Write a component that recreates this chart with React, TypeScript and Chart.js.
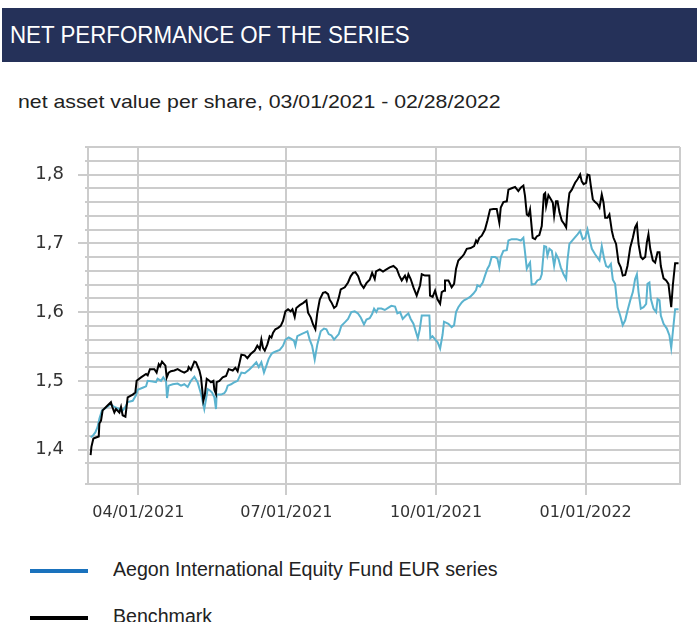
import React, { useEffect, useRef } from "react";
import { Chart, registerables } from "chart.js";

Chart.register(...registerables);

// x values: days since 03/01/2021
const fundDays = [1.6,2.9,4.5,5.9,7.0,8.6,11.1,14.1,16.2,19.3,21.3,23.0,24.4,27.5,29.5,30.5,33.6,35.7,36.7,39.8,41.8,42.8,44.9,46.3,48.0,48.6,49.6,52.1,55.1,57.2,59.2,61.3,63.3,65.4,67.4,69.5,71.5,72.6,73.6,75.0,76.3,77.7,78.7,79.1,81.8,83.8,84.9,85.9,88.0,90.0,92.0,94.3,96.4,99.4,101.5,103.5,105.0,106.6,108.2,109.7,111.1,112.8,113.8,115.8,117.9,119.9,121.4,123.4,125.0,126.7,127.5,128.7,131.2,133.2,134.9,136.3,137.8,139.4,141.0,143.1,145.1,146.6,148.0,149.7,151.3,152.7,154.2,155.8,157.9,159.9,161.9,164.0,166.0,167.7,169.7,171.2,173.2,174.7,175.9,177.3,178.3,180.4,182.5,184.5,186.5,188.8,190.2,191.9,193.5,195.5,197.0,198.4,200.1,201.5,202.8,204.0,205.2,209.9,210.5,211.8,213.5,215.0,216.5,218.0,218.9,221.6,223.6,225.1,226.3,227.7,229.8,231.2,232.9,234.9,237.0,238.6,239.4,241.0,242.7,244.1,245.6,246.8,248.2,250.3,251.7,252.9,253.8,255.4,257.5,258.5,260.5,263.6,266.1,267.7,268.7,269.8,270.8,271.8,272.8,274.9,276.3,278.0,279.0,280.5,281.7,282.5,283.7,285.2,286.6,287.8,289.3,290.7,292.4,294.0,294.8,296.0,298.5,301.0,302.6,304.2,305.7,307.1,308.3,309.8,311.8,314.5,315.9,317.4,318.6,320.0,321.5,322.7,324.1,325.6,327.2,328.8,330.3,331.7,333.4,335.0,336.4,337.5,338.5,339.9,341.6,343.2,344.0,345.2,346.1,347.7,349.3,350.2,351.4,352.2,353.9,355.9,357.5,358.6,359.6,361.0,363.1];
const fundValues = [1.418,1.420,1.425,1.433,1.445,1.457,1.461,1.466,1.462,1.459,1.457,1.462,1.469,1.471,1.479,1.487,1.490,1.492,1.500,1.499,1.498,1.503,1.500,1.505,1.499,1.475,1.493,1.495,1.496,1.493,1.495,1.491,1.500,1.506,1.498,1.481,1.459,1.474,1.488,1.486,1.483,1.476,1.459,1.480,1.480,1.482,1.486,1.493,1.495,1.498,1.500,1.512,1.511,1.517,1.522,1.527,1.520,1.527,1.512,1.522,1.532,1.539,1.541,1.543,1.545,1.551,1.560,1.563,1.561,1.558,1.551,1.565,1.568,1.570,1.572,1.560,1.551,1.531,1.553,1.572,1.576,1.575,1.568,1.566,1.560,1.564,1.568,1.580,1.585,1.590,1.600,1.601,1.598,1.592,1.582,1.589,1.591,1.597,1.605,1.600,1.605,1.605,1.603,1.606,1.609,1.608,1.598,1.600,1.590,1.595,1.598,1.590,1.583,1.572,1.562,1.575,1.595,1.595,1.562,1.565,1.560,1.556,1.547,1.567,1.586,1.583,1.578,1.581,1.600,1.607,1.614,1.617,1.619,1.622,1.627,1.632,1.639,1.637,1.643,1.653,1.663,1.668,1.680,1.680,1.678,1.665,1.680,1.689,1.690,1.704,1.706,1.706,1.704,1.708,1.687,1.663,1.668,1.672,1.640,1.641,1.646,1.648,1.655,1.696,1.695,1.682,1.692,1.689,1.667,1.684,1.677,1.665,1.655,1.648,1.675,1.699,1.706,1.713,1.718,1.706,1.708,1.720,1.707,1.692,1.684,1.675,1.696,1.677,1.667,1.665,1.670,1.647,1.641,1.607,1.595,1.581,1.588,1.602,1.617,1.629,1.648,1.655,1.629,1.605,1.607,1.612,1.641,1.643,1.619,1.605,1.600,1.619,1.617,1.595,1.583,1.576,1.566,1.548,1.571,1.604,1.604];

const benchDays = [1.6,2.1,3.3,6.6,7.0,8.0,9.0,11.1,14.1,14.8,16.2,17.2,19.3,20.3,21.3,23.0,24.4,27.5,29.1,29.9,32.6,35.7,36.7,38.1,40.8,42.2,43.5,44.3,45.5,47.6,48.4,49.6,51.0,53.1,55.1,57.2,59.2,61.3,61.9,63.3,65.4,66.4,68.5,69.5,70.9,71.8,73.0,74.6,75.6,77.1,77.7,78.7,79.1,80.8,82.8,84.9,86.5,89.0,90.6,92.0,94.3,96.4,98.0,100.0,102.5,104.1,105.6,106.6,107.6,108.7,110.3,111.7,112.8,113.8,115.2,116.9,118.5,119.9,121.4,123.0,124.6,125.7,127.1,128.1,130.2,132.2,134.3,135.3,137.0,138.4,139.8,141.0,142.5,144.5,146.0,147.6,148.6,149.7,151.3,152.7,154.2,155.4,157.9,159.9,161.5,163.0,164.4,166.1,167.7,169.5,171.2,173.2,174.7,176.3,177.1,179.4,181.4,183.5,185.5,187.8,189.8,191.4,192.9,194.9,196.0,197.0,198.4,200.1,202.1,204.2,205.2,207.2,209.9,210.3,211.9,213.4,214.8,216.5,217.5,218.9,219.5,221.6,223.6,225.1,226.3,227.7,229.8,231.2,232.9,235.3,237.4,238.6,239.4,240.6,242.1,244.1,245.6,247.2,249.3,251.3,252.9,253.8,255.4,257.5,258.5,260.5,262.6,264.6,266.1,267.7,268.7,269.8,270.8,271.8,273.4,274.9,275.9,277.5,279.0,280.3,281.1,281.7,283.1,284.6,285.8,286.6,287.8,288.7,289.9,291.3,292.8,294.0,294.8,296.0,297.5,299.5,301.0,302.6,303.6,304.7,306.3,307.1,308.3,309.2,310.4,311.8,313.3,314.5,315.9,317.0,318.0,319.4,320.6,322.1,323.1,324.7,326.2,327.6,328.8,330.3,331.7,333.4,335.0,336.4,337.5,338.5,339.9,341.1,342.6,343.6,344.6,345.7,347.3,348.7,350.2,351.4,352.2,353.9,355.5,356.9,358.6,359.6,361.0,363.1];
const benchValues = [1.392,1.404,1.416,1.419,1.438,1.442,1.457,1.462,1.469,1.463,1.454,1.459,1.454,1.462,1.450,1.448,1.476,1.480,1.483,1.500,1.505,1.510,1.508,1.517,1.517,1.512,1.524,1.521,1.528,1.522,1.505,1.512,1.514,1.515,1.517,1.514,1.512,1.515,1.520,1.516,1.528,1.527,1.515,1.505,1.471,1.479,1.503,1.500,1.498,1.500,1.487,1.481,1.498,1.500,1.505,1.507,1.517,1.515,1.519,1.514,1.538,1.537,1.533,1.539,1.544,1.551,1.546,1.560,1.548,1.544,1.553,1.565,1.563,1.570,1.575,1.577,1.580,1.587,1.601,1.604,1.601,1.604,1.593,1.606,1.610,1.613,1.617,1.599,1.592,1.582,1.575,1.599,1.618,1.628,1.629,1.626,1.618,1.614,1.606,1.609,1.621,1.633,1.636,1.643,1.652,1.657,1.658,1.652,1.641,1.635,1.642,1.647,1.657,1.648,1.659,1.662,1.659,1.662,1.665,1.667,1.663,1.653,1.646,1.653,1.646,1.655,1.648,1.636,1.624,1.639,1.655,1.653,1.653,1.624,1.622,1.631,1.619,1.612,1.629,1.631,1.646,1.646,1.636,1.641,1.663,1.675,1.680,1.684,1.692,1.693,1.696,1.704,1.701,1.708,1.711,1.720,1.733,1.749,1.750,1.750,1.730,1.752,1.760,1.761,1.778,1.780,1.782,1.776,1.781,1.784,1.769,1.742,1.740,1.749,1.708,1.706,1.710,1.712,1.725,1.771,1.773,1.754,1.770,1.764,1.759,1.740,1.761,1.761,1.745,1.733,1.728,1.723,1.749,1.773,1.778,1.788,1.793,1.800,1.790,1.786,1.788,1.800,1.799,1.783,1.764,1.760,1.757,1.752,1.771,1.759,1.737,1.737,1.742,1.718,1.708,1.699,1.672,1.665,1.653,1.654,1.667,1.694,1.708,1.723,1.728,1.699,1.680,1.677,1.680,1.701,1.713,1.692,1.675,1.672,1.687,1.687,1.667,1.649,1.646,1.641,1.607,1.639,1.671,1.671];

const xTickDays = [31, 122, 214, 306];
const xTickLabels = ["04/01/2021", "07/01/2021", "10/01/2021", "01/01/2022"];
const xMin = 0;
const xMax = 364;
const yMin = 1.35;
const yMax = 1.84;
const yStep = 0.02;

const TITLE = "NET PERFORMANCE OF THE SERIES";
const SUBTITLE = "net asset value per share, 03/01/2021 - 02/28/2022";
const FUND_LABEL = "Aegon International Equity Fund EUR series";
const BENCH_LABEL = "Benchmark";
const FUND_COLOR = "#5bb3cf";
const FUND_LEGEND_COLOR = "#1a72bd";
const BENCH_COLOR = "#000000";
const GRID = "#cccccc";
const HEAD_FONT = '"Liberation Sans", Arial, sans-serif';

function toPoints(days: number[], vals: number[]) {
  return days.map((d, i) => ({ x: d, y: vals[i] }));
}

function isMajor(v: number) {
  const n = v * 10;
  return Math.abs(n - Math.round(n)) < 1e-6;
}

// short tick stubs for the minor (unlabelled) horizontal grid lines
const minorStubs = {
  id: "minorStubs",
  beforeDatasetsDraw(chart: any) {
    const y = chart.scales.y;
    const ctx = chart.ctx;
    ctx.save();
    ctx.strokeStyle = GRID;
    ctx.lineWidth = 2;
    y.ticks.forEach((t: any) => {
      if (isMajor(t.value)) return;
      const py = Math.round(y.getPixelForValue(t.value));
      ctx.beginPath();
      ctx.moveTo(y.right - 3, py);
      ctx.lineTo(y.right, py);
      ctx.stroke();
    });
    ctx.restore();
  },
};

function ChartCanvas() {
  const ref = useRef<HTMLCanvasElement | null>(null);
  useEffect(() => {
    if (!ref.current) return;
    const chart = new Chart(ref.current, {
      type: "line",
      data: {
        datasets: [
          {
            label: BENCH_LABEL,
            data: toPoints(benchDays, benchValues),
            borderColor: BENCH_COLOR,
            borderWidth: 2,
            pointRadius: 0,
            tension: 0,
            order: 0,
          },
          {
            label: FUND_LABEL,
            data: toPoints(fundDays, fundValues),
            borderColor: FUND_COLOR,
            borderWidth: 2,
            pointRadius: 0,
            tension: 0,
            order: 1,
          },
        ],
      },
      plugins: [minorStubs],
      options: {
        animation: false,
        responsive: false,
        maintainAspectRatio: false,
        layout: { padding: { left: 0, right: 17, top: 25, bottom: 0 } },
        plugins: { legend: { display: false }, tooltip: { enabled: false } },
        scales: {
          x: {
            type: "linear",
            min: xMin,
            max: xMax,
            afterBuildTicks: (scale: any) => {
              scale.ticks = [...xTickDays, xMax].map((v) => ({ value: v }));
            },
            afterFit: (scale: any) => {
              scale.height = 36;
            },
            ticks: {
              autoSkip: false,
              maxRotation: 0,
              padding: 8,
              color: "#333333",
              font: { family: "DejaVu Sans", size: 16 },
              callback: (v: any) => {
                const i = xTickDays.indexOf(Number(v));
                return i >= 0 ? xTickLabels[i] : "";
              },
            },
            grid: {
              color: GRID,
              lineWidth: 2,
              tickLength: 11,
              tickColor: (ctx: any) =>
                ctx.tick && ctx.tick.value === xMax ? "rgba(0,0,0,0)" : GRID,
            },
            border: { color: GRID, width: 2 },
          },
          y: {
            type: "linear",
            min: yMin,
            max: yMax,
            afterFit: (scale: any) => {
              scale.width = 88;
            },
            ticks: {
              stepSize: yStep,
              autoSkip: false,
              padding: 14,
              color: "#333333",
              font: { family: "DejaVu Sans", size: 18 },
              callback: (v: any) =>
                isMajor(Number(v)) ? Number(v).toFixed(1).replace(".", ",") : "",
            },
            grid: {
              color: GRID,
              lineWidth: 2,
              tickLength: 10,
              tickColor: (ctx: any) =>
                ctx.tick && isMajor(ctx.tick.value) ? GRID : "rgba(0,0,0,0)",
            },
            border: { color: GRID, width: 2 },
          },
        },
      },
    } as any);
    return () => chart.destroy();
  }, []);
  return (
    <canvas
      ref={ref}
      width={697}
      height={398}
      style={{ position: "absolute", left: 0, top: 122, width: 697, height: 398 }}
    />
  );
}

const textBase: React.CSSProperties = {
  position: "absolute",
  fontFamily: HEAD_FONT,
  whiteSpace: "nowrap",
  transformOrigin: "left center",
};

export default function App() {
  return (
    <div
      style={{
        position: "absolute",
        left: 0,
        top: 0,
        width: 697,
        height: 622,
        overflow: "hidden",
        background: "#ffffff",
      }}
    >
      <div
        style={{
          position: "absolute",
          left: 2,
          top: 8,
          width: 695,
          height: 54,
          background: "#253159",
        }}
      >
        <div
          style={{
            ...textBase,
            left: 8,
            top: 0,
            lineHeight: "54px",
            fontSize: 24,
            color: "#ffffff",
            transform: "scaleX(0.93)",
          }}
        >
          {TITLE}
        </div>
      </div>
      <div
        style={{
          ...textBase,
          left: 18,
          top: 91,
          fontSize: 19,
          lineHeight: "22px",
          color: "#222222",
          transform: "scaleX(1.12)",
        }}
      >
        {SUBTITLE}
      </div>
      <ChartCanvas />
      <div style={{ position: "absolute", left: 30, top: 569, width: 58, height: 4, background: FUND_LEGEND_COLOR }} />
      <div
        style={{
          ...textBase,
          left: 113,
          top: 558,
          fontSize: 20,
          lineHeight: "23px",
          color: "#222222",
          transform: "scaleX(0.98)",
        }}
      >
        {FUND_LABEL}
      </div>
      <div style={{ position: "absolute", left: 30, top: 616, width: 58, height: 4, background: BENCH_COLOR }} />
      <div
        style={{
          ...textBase,
          left: 113,
          top: 605,
          fontSize: 20,
          lineHeight: "23px",
          color: "#222222",
          transform: "scaleX(0.98)",
        }}
      >
        {BENCH_LABEL}
      </div>
    </div>
  );
}
